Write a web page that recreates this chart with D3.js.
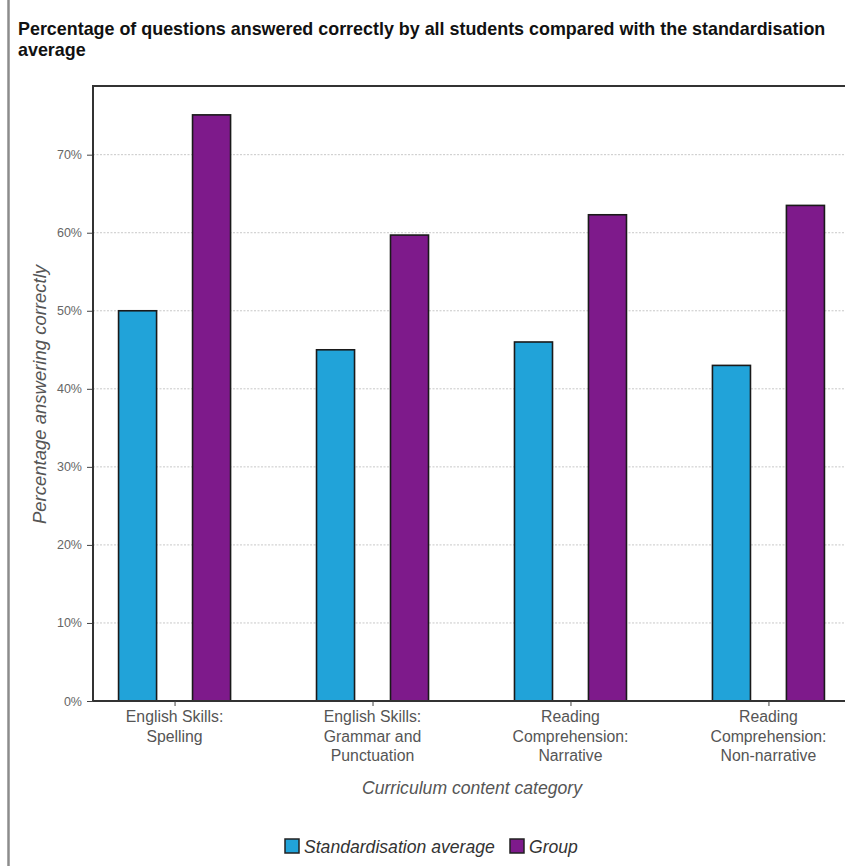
<!DOCTYPE html>
<html>
<head>
<meta charset="utf-8">
<script src="https://cdn.jsdelivr.net/npm/d3@7"></script>
<style>
  html, body { margin: 0; padding: 0; background: #fff; }
  svg { display: block; font-family: "Liberation Sans", Arial, sans-serif; }
</style>
</head>
<body>
<svg id="chart" width="845" height="866"></svg>
<script>
// Curriculum categories (x-axis labels, one line per array entry)
const categories = ["Spelling", "Grammar", "Narrative", "NonNarrative"];
const categoryLabels = [
  ["English Skills:", "Spelling"],
  ["English Skills:", "Grammar and", "Punctuation"],
  ["Reading", "Comprehension:", "Narrative"],
  ["Reading", "Comprehension:", "Non-narrative"]
];
// Series
const seriesNames = ["Standardisation average", "Group"];
const standardisationAverage = [50, 45, 46, 43];
const groupValues = [75.1, 59.7, 62.3, 63.5];
const yTicks = [0, 10, 20, 30, 40, 50, 60, 70];
const yMax = 78.8;

const colors = ["#21a3d9", "#7e1a8b"];

const svg = d3.select("#chart");
const W = 845, H = 866;

// page edge rule
svg.append("line")
  .attr("x1", 8.5).attr("x2", 8.5).attr("y1", 0).attr("y2", H)
  .attr("stroke", "#8c8c8c").attr("stroke-width", 2.5);

// title
const title = svg.append("text")
  .attr("font-weight", "bold").attr("font-size", 17.9).attr("fill", "#111");
title.append("tspan").attr("x", 18).attr("y", 35)
  .text("Percentage of questions answered correctly by all students compared with the standardisation");
title.append("tspan").attr("x", 18).attr("y", 56).text("average");

const plot = { left: 93, right: 850, top: 86, bottom: 701 };

const x0 = d3.scalePoint().domain(categories)
  .range([plot.left, plot.right]).padding(0.412);
const x1 = d3.scaleBand().domain(seriesNames)
  .range([-56, 56]).paddingInner(0.486).paddingOuter(0);
const y = d3.scaleLinear().domain([0, yMax]).range([plot.bottom, plot.top]);

// gridlines
svg.append("g").selectAll("line").data(yTicks.filter(d => d > 0)).join("line")
  .attr("x1", plot.left).attr("x2", plot.right)
  .attr("y1", d => y(d)).attr("y2", d => y(d))
  .attr("stroke", "#c8c8c8").attr("stroke-width", 1)
  .attr("stroke-dasharray", "2,1.5");

// y axis (ticks + labels)
const yAxis = d3.axisLeft(y).tickValues(yTicks).tickFormat(d => d + "%")
  .tickSize(6).tickPadding(5);
const yg = svg.append("g").attr("transform", `translate(${plot.left},0)`).call(yAxis);
yg.select(".domain").remove();
yg.selectAll(".tick line").attr("stroke", "#444");
yg.selectAll(".tick text").attr("fill", "#666").attr("font-size", 12.5)
  .attr("font-family", "Liberation Sans, Arial, sans-serif");

// bars
const rows = categories.map((c, i) => ({
  cat: c,
  values: [
    { s: seriesNames[0], v: standardisationAverage[i] },
    { s: seriesNames[1], v: groupValues[i] }
  ]
}));
const groups = svg.append("g").selectAll("g").data(rows).join("g")
  .attr("transform", d => `translate(${x0(d.cat)},0)`);
groups.selectAll("rect").data(d => d.values).join("rect")
  .attr("x", d => x1(d.s))
  .attr("width", x1.bandwidth())
  .attr("y", d => y(d.v))
  .attr("height", d => y(0) - y(d.v))
  .attr("fill", (d, i) => colors[i])
  .attr("stroke", "#1a1a1a").attr("stroke-width", 1.6);

// frame: left and top
svg.append("path")
  .attr("d", `M${plot.left},${plot.bottom} V${plot.top} H${plot.right}`)
  .attr("fill", "none").attr("stroke", "#333").attr("stroke-width", 2);

// x axis
const xAxis = d3.axisBottom(x0).tickSize(5).tickFormat("");
const xg = svg.append("g").attr("transform", `translate(0,${plot.bottom})`).call(xAxis);
xg.select(".domain").attr("d", `M${plot.left},0H${plot.right}`)
  .attr("stroke", "#333").attr("stroke-width", 2);
xg.selectAll(".tick line").attr("stroke", "#444");

// category labels
svg.append("g").selectAll("text").data(categories).join("text")
  .attr("x", d => x0(d)).attr("text-anchor", "middle")
  .attr("font-size", 15.8).attr("fill", "#555")
  .each(function(d, i) {
    const t = d3.select(this);
    categoryLabels[i].forEach((line, j) => {
      t.append("tspan").attr("x", x0(d)).attr("y", 722 + j * 19.5).text(line);
    });
  });

// axis titles
svg.append("text")
  .attr("transform", `translate(46,${(plot.top + plot.bottom) / 2 + 1}) rotate(-90)`)
  .attr("text-anchor", "middle").attr("font-style", "italic")
  .attr("font-size", 18.5).attr("fill", "#555")
  .text("Percentage answering correctly");

svg.append("text")
  .attr("x", 472).attr("y", 794).attr("text-anchor", "middle")
  .attr("font-style", "italic").attr("font-size", 17.6).attr("fill", "#555")
  .text("Curriculum content category");

// legend
const legendItems = [
  { name: seriesNames[0], color: colors[0], x: 285 },
  { name: seriesNames[1], color: colors[1], x: 510 }
];
const lg = svg.append("g").selectAll("g").data(legendItems).join("g")
  .attr("transform", d => `translate(${d.x},839)`);
lg.append("rect").attr("width", 14).attr("height", 14)
  .attr("fill", d => d.color).attr("stroke", "#222").attr("stroke-width", 1.5);
lg.append("text").attr("x", 19).attr("y", 13.5)
  .attr("font-size", 17.6).attr("font-style", "italic").attr("fill", "#333")
  .text(d => d.name);
</script>
</body>
</html>
